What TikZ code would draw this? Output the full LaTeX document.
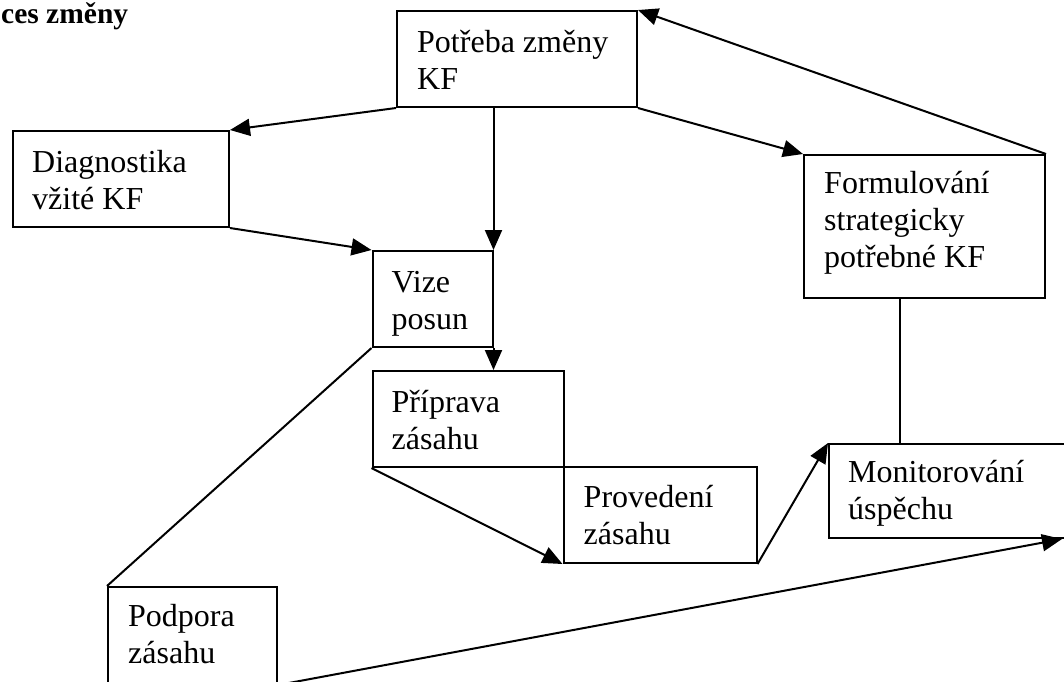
\documentclass[tikz,border=0pt]{standalone}
\usepackage{fontspec}
\setmainfont{Liberation Serif}
\usetikzlibrary{arrows.meta,calc}
\begin{document}
\begin{tikzpicture}[x=1pt,y=-1pt,
  box/.style={draw,line width=2pt,rectangle,inner sep=0pt,anchor=north west},
  lbl/.style={anchor=base west,inner sep=0pt,align=left,font=\fontsize{32}{37}\selectfont},
  conn/.style={line width=2pt},
  arr/.style={conn,-{Triangle[length=20pt,width=17pt]}}]
\useasboundingbox (0,0) rectangle (1064,681);
\clip (0,0) rectangle (1064,681);
\node[anchor=base west,inner sep=0pt,font=\fontsize{29.5}{34}\selectfont\bfseries] (title) at (1,23) {ces změny};
% boxes
\node[box,minimum width=240pt,minimum height=96pt] (potreba) at (396,10) {};
\node[box,minimum width=216pt,minimum height=96pt] (diag) at (12,130) {};
\node[box,minimum width=120pt,minimum height=96pt] (vize) at (371.5,250) {};
\node[box,minimum width=191pt,minimum height=96pt] (priprava) at (371.5,370) {};
\node[box,minimum width=193pt,minimum height=96pt] (provedeni) at (562.5,466) {};
\node[box,minimum width=241pt,minimum height=143pt] (formul) at (803,154) {};
\node[box,minimum width=260pt,minimum height=94pt] (monitor) at (828,443) {};
\node[box,minimum width=169pt,minimum height=97pt] (podpora) at (107,586) {};
% labels (base = baseline of the last line)
\node[lbl] (tpotreba) at ($(potreba.north west)+(21,79)$) {Potřeba změny\\KF};
\node[lbl] (tdiag) at ($(diag.north west)+(20,79)$) {Diagnostika\\vžité KF};
\node[lbl] (tvize) at ($(vize.north west)+(20,79)$) {Vize\\posun};
\node[lbl] (tpriprava) at ($(priprava.north west)+(20,79)$) {Příprava\\zásahu};
\node[lbl] (tprovedeni) at ($(provedeni.north west)+(21,78)$) {Provedení\\zásahu};
\node[lbl] (tformul) at ($(formul.north west)+(21,113)$) {Formulování\\strategicky\\potřebné KF};
\node[lbl] (tmonitor) at ($(monitor.north west)+(20,76)$) {Monitorování\\úspěchu};
\node[lbl] (tpodpora) at ($(podpora.north west)+(21,77)$) {Podpora\\zásahu};
% connectors
\coordinate (monend) at ($(monitor.south west)+(234,0)$);
\coordinate (fdrop) at ($(formul.south west)!0.4!(formul.south east)$);
\draw[arr] (potreba.south west) -- (diag.north east);
\draw[arr] (vize.north east |- potreba.south) -- (vize.north east);
\draw[arr] (potreba.south east) -- (formul.north west);
\draw[arr] (formul.north east) -- (potreba.north east);
\draw[arr] (diag.south east) -- (vize.north west);
\draw[arr] (vize.south east) -- (vize.south east |- priprava.north);
\draw[arr] (priprava.south west) -- (provedeni.south west);
\draw[arr] (provedeni.south east) -- (monitor.north west);
\draw[conn] (fdrop) -- (fdrop |- monitor.north);
\draw[conn] (vize.south west) -- (podpora.north west);
\draw[arr] (podpora.south east) -- (monend);
\end{tikzpicture}
\end{document}
